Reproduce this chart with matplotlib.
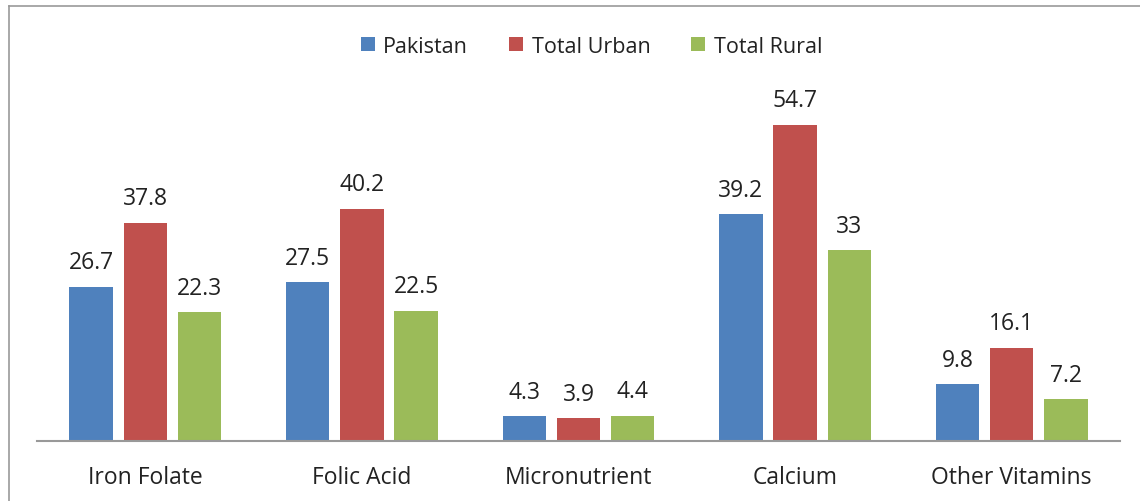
import matplotlib.pyplot as plt
import numpy as np
from matplotlib.lines import Line2D

categories = ["Iron Folate", "Folic Acid", "Micronutrient", "Calcium", "Other Vitamins"]
pakistan = [26.7, 27.5, 4.3, 39.2, 9.8]
urban = [37.8, 40.2, 3.9, 54.7, 16.1]
rural = [22.3, 22.5, 4.4, 33, 7.2]
labels = ["Pakistan", "Total Urban", "Total Rural"]

colors = ["#4F81BD", "#C0504D", "#9BBB59"]

plt.rcParams['font.family'] = ['Open Sans', 'DejaVu Sans']

fig = plt.figure(figsize=(11.4, 5.02), dpi=100)
ax = fig.add_axes([37 / 1140, 1 - 442 / 502, (1120 - 37) / 1140, (442 - 15) / 502])

x = np.arange(len(categories))
width = 0.2
step = 0.25
for i, (vals, lab, col) in enumerate(zip([pakistan, urban, rural], labels, colors)):
    bars = ax.bar(x + (i - 1) * step, vals, width, color=col, label=lab)
    for b, v in zip(bars, vals):
        ax.annotate(f"{v:g}", (b.get_x() + b.get_width() / 2, v),
                    xytext=(0, 9), textcoords="offset points",
                    ha="center", va="bottom", fontsize=16.5, color="#222222")

ax.set_xlim(-0.5, 4.5)
ax.set_ylim(0, 73.9)
ax.set_yticks([])
ax.set_xticks(x)
ax.set_xticklabels(categories, fontsize=16.5, color="#222222")
ax.tick_params(axis="x", length=0, pad=17)
for s in ["top", "right", "left"]:
    ax.spines[s].set_visible(False)
ax.spines["bottom"].set_color("#999999")
ax.spines["bottom"].set_linewidth(1.5)

ax.legend(loc="upper center", bbox_to_anchor=(0.512, 0.995), ncol=3, frameon=False,
          fontsize=15.5, handlelength=0.65, handleheight=0.65, handletextpad=0.4,
          columnspacing=1.9, labelcolor="#222222")

# chart frame (top and left edges visible)
fig.add_artist(Line2D([9 / 1140, 9 / 1140], [0, 1 - 7 / 502], color="#999999", lw=1.2,
                      transform=fig.transFigure))
fig.add_artist(Line2D([9 / 1140, 1], [1 - 7 / 502, 1 - 7 / 502], color="#999999", lw=1.2,
                      transform=fig.transFigure))

fig.savefig("out.png", dpi=100)
